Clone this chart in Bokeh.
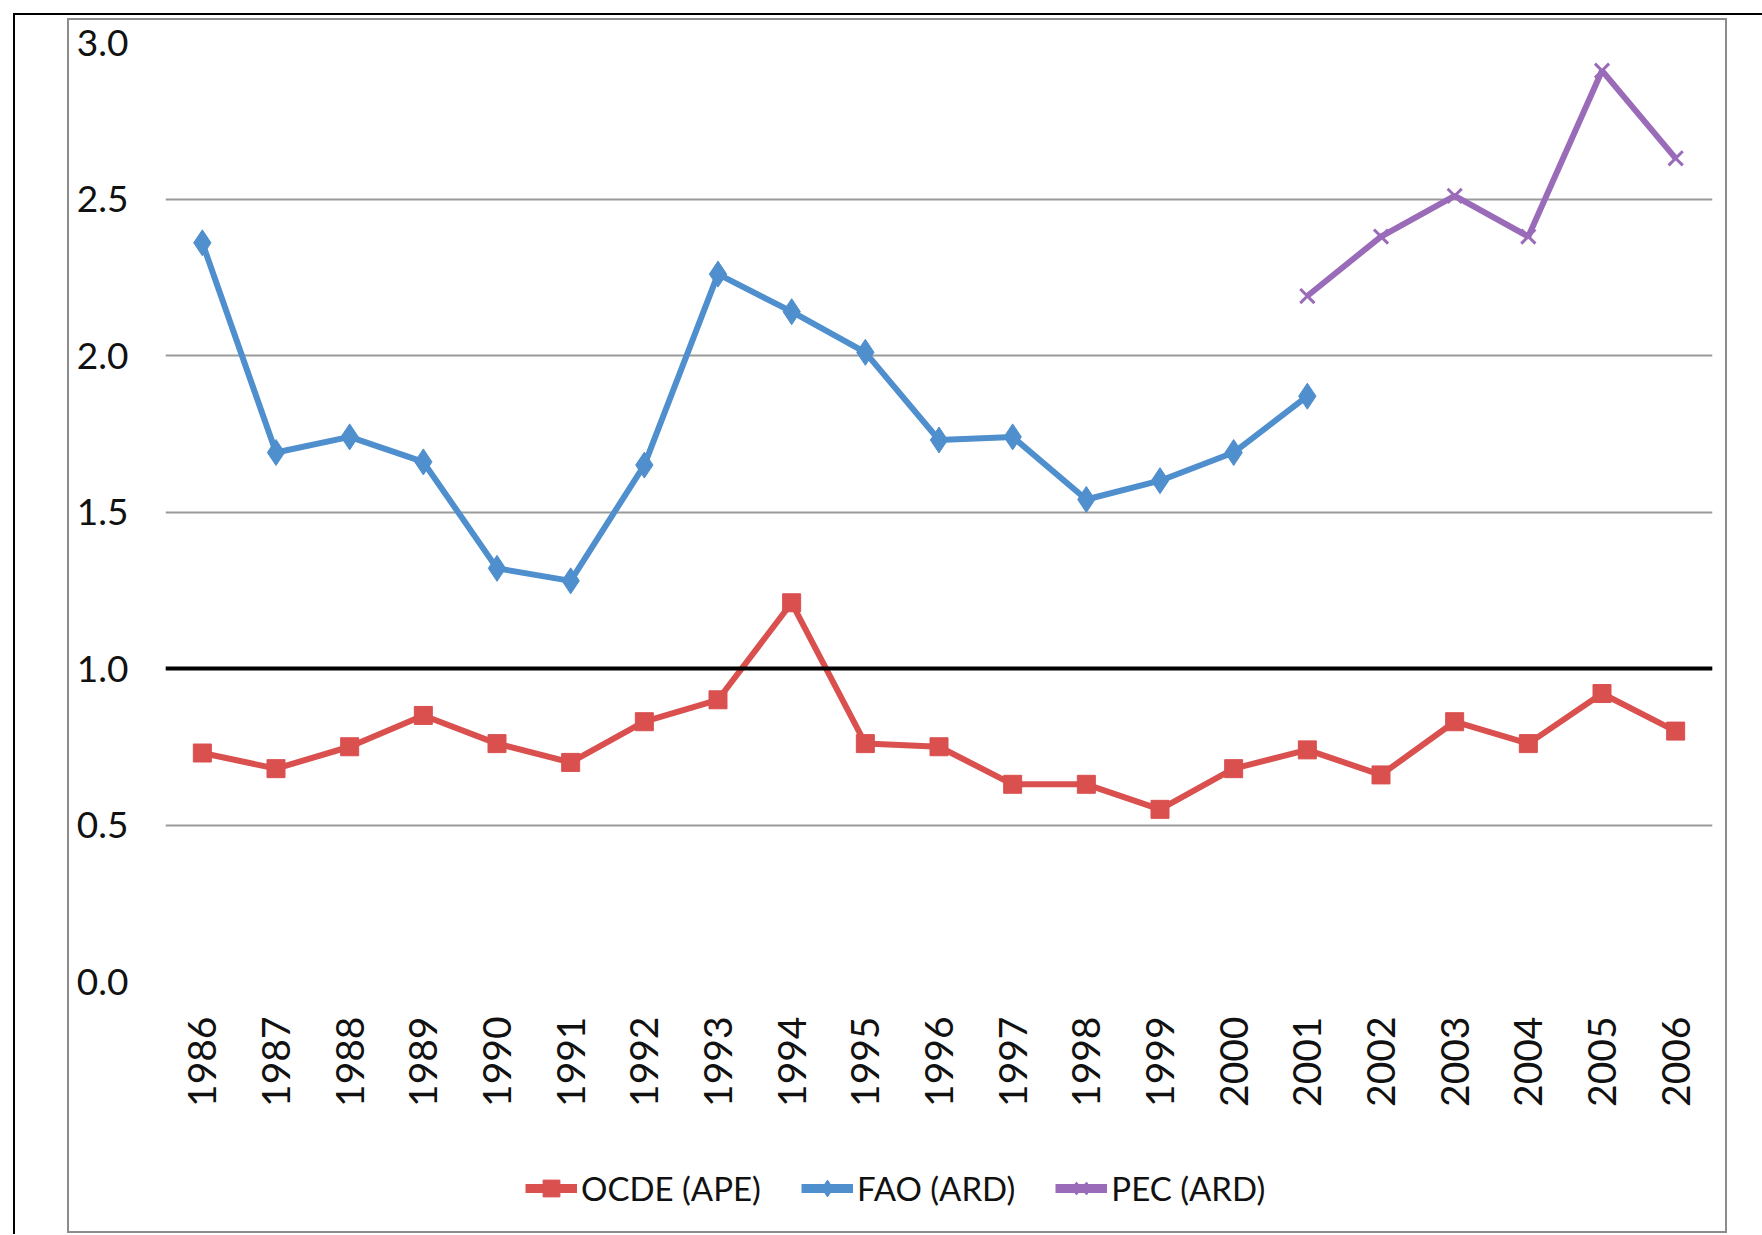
from math import pi
from bokeh.plotting import figure
from bokeh.layouts import column
from bokeh.models import (Range1d, FactorRange, FixedTicker, Span, Legend,
                          LegendItem, NumeralTickFormatter)
from bokeh.embed import file_html
from bokeh.resources import INLINE

# ---------------- data ----------------
years = ["1986", "1987", "1988", "1989", "1990", "1991", "1992", "1993", "1994",
         "1995", "1996", "1997", "1998", "1999", "2000", "2001", "2002", "2003",
         "2004", "2005", "2006"]

ocde_years = years
ocde_values = [0.73, 0.68, 0.75, 0.85, 0.76, 0.70, 0.83, 0.90, 1.21, 0.76, 0.75,
               0.63, 0.63, 0.55, 0.68, 0.74, 0.66, 0.83, 0.76, 0.92, 0.80]

fao_years = ["1986", "1987", "1988", "1989", "1990", "1991", "1992", "1993",
             "1994", "1995", "1996", "1997", "1998", "1999", "2000", "2001"]
fao_values = [2.36, 1.69, 1.74, 1.66, 1.32, 1.28, 1.65, 2.26, 2.14, 2.01, 1.73,
              1.74, 1.54, 1.60, 1.69, 1.87]

pec_years = ["2001", "2002", "2003", "2004", "2005", "2006"]
pec_values = [2.19, 2.38, 2.51, 2.38, 2.91, 2.63]

y_ticks = [0.0, 0.5, 1.0, 1.5, 2.0, 2.5, 3.0]
reference_level = 1.0

series_labels = ["OCDE (APE)", "FAO (ARD)", "PEC (ARD)"]

# ---------------- style ----------------
RED = "#D9504F"
BLUE = "#4F8FCD"
PURPLE = "#9A6BB8"
FONT = "Lato"
TXT = "#111111"

W = 1656
H_CHART = 1100
H_LEGEND = 111

p = figure(width=W, height=H_CHART,
           x_range=FactorRange(*years), y_range=Range1d(0, 3.0),
           output_backend="svg", toolbar_location=None,
           min_border_left=96, min_border_right=13,
           min_border_top=22, min_border_bottom=139)
p.outline_line_color = None
p.background_fill_color = "white"
p.border_fill_color = "white"

# y axis
p.yaxis.ticker = FixedTicker(ticks=y_ticks)
p.yaxis.formatter = NumeralTickFormatter(format="0.0")
p.yaxis.axis_line_color = None
p.yaxis.major_tick_line_color = None
p.yaxis.minor_tick_line_color = None
p.yaxis.major_tick_out = 0
p.yaxis.major_label_standoff = 37
p.yaxis.major_label_text_font = FONT
p.yaxis.major_label_text_font_size = "37px"
p.yaxis.major_label_text_color = TXT

# x axis
p.xaxis.axis_line_color = None
p.xaxis.major_tick_line_color = None
p.xaxis.minor_tick_line_color = None
p.xaxis.major_tick_out = 0
p.xaxis.major_label_standoff = 35
p.xaxis.major_label_orientation = pi / 2
p.xaxis.major_label_text_font = FONT
p.xaxis.major_label_text_font_size = "39px"
p.xaxis.major_label_text_color = TXT

p.xgrid.grid_line_color = None
p.ygrid.grid_line_color = "#9a9a9a"
p.ygrid.grid_line_width = 2

# series
p.line(ocde_years, ocde_values, line_color=RED, line_width=6)
p.scatter(ocde_years, ocde_values, marker="square", size=18,
          fill_color=RED, line_color=RED)

p.line(fao_years, fao_values, line_color=BLUE, line_width=6)
p.scatter(fao_years, fao_values, marker="diamond", size=26,
          fill_color=BLUE, line_color=BLUE)

p.line(pec_years, pec_values, line_color=PURPLE, line_width=6)
p.scatter(pec_years, pec_values, marker="x", size=20,
          line_color=PURPLE, line_width=3)

p.add_layout(Span(location=reference_level, dimension="width",
                  line_color="black", line_width=4))

# ---------------- legend strip (own figure so the legend is not clipped) ----------------
# Same series drawn on a y-range that shows none of them: only their legend glyphs appear.
lp = figure(width=W, height=H_LEGEND, x_range=FactorRange(*years), y_range=Range1d(10, 11),
            output_backend="svg", toolbar_location=None,
            x_axis_type=None, y_axis_type=None, min_border=0,
            min_border_left=0, min_border_right=0, min_border_top=0, min_border_bottom=0)
lp.outline_line_color = None
lp.background_fill_color = "white"
lp.border_fill_color = "white"
lp.xgrid.grid_line_color = None
lp.ygrid.grid_line_color = None

lg_ocde = [lp.line(ocde_years, ocde_values, line_color=RED, line_width=9),
           lp.scatter(ocde_years, ocde_values, marker="square", size=18,
                      fill_color=RED, line_color=RED)]
lg_fao = [lp.line(fao_years, fao_values, line_color=BLUE, line_width=9),
          lp.scatter(fao_years, fao_values, marker="diamond", size=22,
                     fill_color=BLUE, line_color=BLUE)]
lg_pec = [lp.line(pec_years, pec_values, line_color=PURPLE, line_width=9),
          lp.scatter(pec_years, pec_values, marker="x", size=20,
                     line_color=PURPLE, line_width=2.5)]

legend = Legend(items=[LegendItem(label=series_labels[0], renderers=lg_ocde),
                       LegendItem(label=series_labels[1], renderers=lg_fao),
                       LegendItem(label=series_labels[2], renderers=lg_pec)],
                location=(360, 22), orientation="horizontal",
                glyph_width=52, glyph_height=42, label_standoff=4, spacing=40,
                padding=0, margin=0, border_line_color=None,
                background_fill_alpha=0,
                label_text_font=FONT, label_text_font_size="33px",
                label_text_color=TXT)
lp.add_layout(legend)

chart_area = column(p, lp, width=W + 4, height=H_CHART + H_LEGEND + 4,
                    margin=(3, 0, 0, 52), spacing=0,
                    styles={"border": "2px solid #8c8c8c"})

outer = column(chart_area, width=1749, height=1221, margin=(13, 0, 0, 13),
               styles={"border-top": "2px solid #000", "border-left": "2px solid #000"})
root = column(outer, width=1762, height=1234)

open("out.html", "w").write(file_html(root, INLINE))
